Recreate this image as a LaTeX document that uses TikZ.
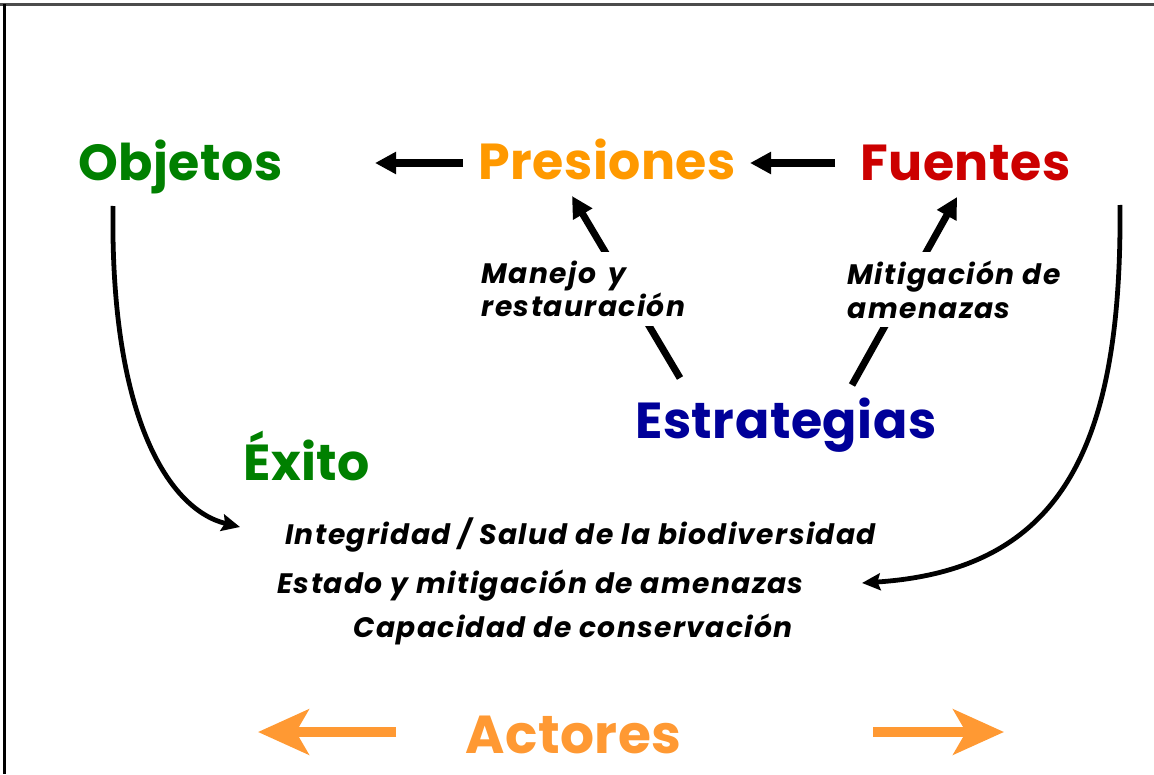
\documentclass[tikz,border=0pt]{standalone}
\usepackage{fontspec}
\setmainfont{Poppins}
\newfontfamily\titlefont[LetterSpace=1]{Poppins}
\newfontfamily\notefont[LetterSpace=5]{Poppins}
\usetikzlibrary{arrows.meta,positioning,calc}
\definecolor{objgreen}{RGB}{0,128,0}
\definecolor{presorange}{RGB}{255,153,0}
\definecolor{fuentred}{RGB}{204,0,0}
\definecolor{estrblue}{RGB}{0,0,153}
\definecolor{actorange}{RGB}{255,153,51}

\begin{document}
\begin{tikzpicture}[x=0.025cm, y=-0.025cm,
    ttl/.style={font=\titlefont\bfseries\fontsize{36}{40}\selectfont, inner sep=0pt,
      anchor=base west, text height=26pt, text depth=0pt},
    goal/.style={font=\notefont\bfseries\itshape\fontsize{20}{24}\selectfont, inner sep=0pt,
      anchor=base west},
    note/.style={font=\notefont\bfseries\itshape\fontsize{20}{24}\selectfont, align=left,
      fill=white, inner sep=6pt, anchor=north west},
    arr/.style={-{Triangle[length=15pt, width=15pt]}, line width=5pt},
    curvearr/.style={-{Stealth[length=13pt, width=12pt, inset=2pt]}, line width=3.4pt},
    widearr/.style={-{Stealth[length=36pt, width=32pt, inset=9pt]}, line width=6.5pt, actorange}
  ]

  %% Page and frame
  \useasboundingbox (0,0) rectangle (1154,774);
  \draw[gray!60!black, line width=1.6pt] (0,4.5) -- (1154,4.5);
  \draw[black, line width=1.6pt] (4.5,4.5) -- (4.5,774);

  %% Top row
  \node[ttl, objgreen] (obj) at (78,181) {Objetos};
  \node[ttl, presorange] (pres) at (478,180) {Presiones};
  \node[ttl, fuentred] (fuen) at (860,181) {Fuentes};

  %% Strategies and success
  \node[ttl, estrblue] (estr) at (635,438) {Estrategias};
  \node[ttl, objgreen] (exito) at (243,480) {Éxito};

  %% Success measures
  \node[goal] (integ) at (285,544) {Integridad / Salud de la biodiversidad};
  \node[goal] (estado) at (277,593) {Estado y mitigación de amenazas};
  \node[goal] (capac) at (353,637) {Capacidad de conservación};

  %% Actors
  \node[ttl, actorange, font=\titlefont\bfseries\fontsize{38}{42}\selectfont] (act) at (465,753) {Actores};
  \coordinate (actL) at ($(act.base west)+(-69,-21)$);
  \coordinate (actR) at ($(act.base west)+(408,-21)$);

  %% Chain arrows
  \draw[arr] ($(pres.base west)+(-15,-17)$) -- ($(obj.base west)+(297,-18)$);
  \draw[arr] ($(fuen.base west)+(-25,-18)$) -- ($(pres.base west)+(272,-17)$);

  %% Strategy arrows (labels sit on top)
  \draw[arr] ($(estr.base west)+(45,-60)$) -- ($(pres.base west)+(94,16)$);
  \draw[arr] ($(estr.base west)+(217,-53)$) -- ($(fuen.base west)+(97,16)$);
  \node[note] (manejo) at (473,252) {Manejo\, y\\restauración};
  \node[note] (mitig) at (839,252) {Mitigación de\\amenazas};

  %% Curved arrows to success
  \draw[curvearr] ($(obj.base west)+(35,25)$) .. controls (110,420) and (170,510) .. ($(integ.base west)+(-45,-17)$);
  \draw[curvearr] ($(fuen.base west)+(260,24)$) .. controls (1122,450) and (1060,570) .. ($(estado.base west)+(585,-10)$);

  %% Actor arrows
  \draw[widearr] (actL) -- ($(actL)+(-138,0)$);
  \draw[widearr] (actR) -- ($(actR)+(131,0)$);

\end{tikzpicture}
\end{document}
